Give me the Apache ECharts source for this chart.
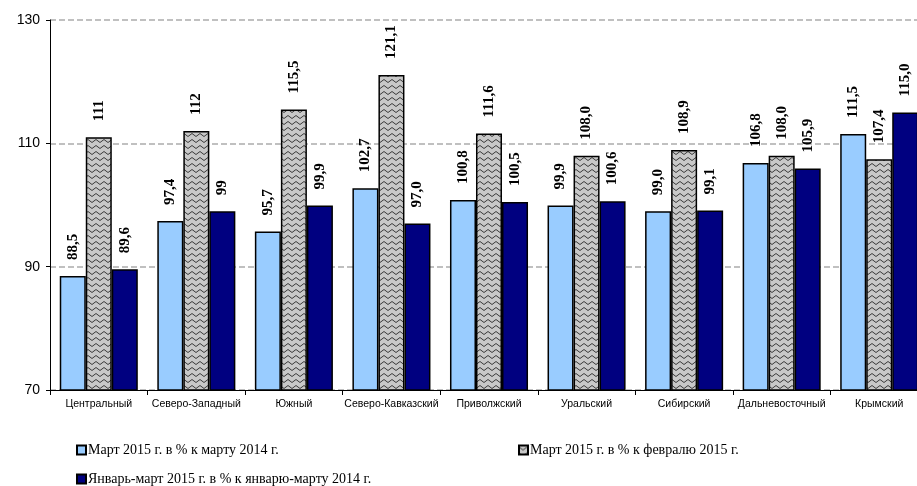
<!DOCTYPE html>
<html>
<head>
<meta charset="utf-8">
<script src="https://cdn.jsdelivr.net/npm/echarts@6/dist/echarts.min.js"></script>
<style>
  html, body { margin: 0; padding: 0; background: #fff; }
  #chart { width: 917px; height: 486px; }
</style>
</head>
<body>
<div id="chart"></div>
<script>
// федеральные округа
const districts = ['Центральный', 'Северо-Западный', 'Южный', 'Северо-Кавказский', 'Приволжский',
  'Уральский', 'Сибирский', 'Дальневосточный', 'Крымский']
// значения как подписаны на диаграмме
const marToMar = ['88,5', '97,4', '95,7', '102,7', '100,8', '99,9', '99,0', '106,8', '111,5']
const marToFeb = ['111', '112', '115,5', '121,1', '111,6', '108,0', '108,9', '108,0', '107,4']
const janMar = ['89,6', '99', '99,9', '97,0', '100,5', '100,6', '99,1', '105,9', '115,0']
const seriesNames = ['Март 2015 г. в % к марту 2014 г.', 'Март 2015 г. в % к февралю 2015 г.',
  'Январь-март 2015 г. в % к январю-марту 2014 г.']
const yTicks = [70, 90, 110, 130]

const toNum = s => parseFloat(s.replace(',', '.'))

// штриховка "зигзаг" для второго ряда
function makePattern(){
  const c = document.createElement('canvas')
  c.width = 8
  c.height = 6
  const ctx = c.getContext('2d')
  ctx.fillStyle = '#C8C8C8'
  ctx.fillRect(0, 0, 8, 6)
  ctx.strokeStyle = '#3a3a3a'
  ctx.lineWidth = 1
  ctx.beginPath()
  ctx.moveTo(0, 1.5)
  ctx.lineTo(4, 4.5)
  ctx.lineTo(8, 1.5)
  ctx.stroke()
  return c
}

const chart = echarts.init(document.getElementById('chart'))

const labelStyle = (texts) => ({
  show: true,
  position: 'top',
  rotate: 90,
  align: 'left',
  verticalAlign: 'middle',
  distance: 16,
  fontFamily: 'Liberation Serif',
  fontWeight: 'bold',
  fontSize: 15,
  color: '#000',
  formatter: p => texts[p.dataIndex]
})

const fills = ['#99CCFF', { image: makePattern(), repeat: 'repeat' }, '#000080']
const raw = [marToMar, marToFeb, janMar]

const series = raw.map((arr, i) => ({
  name: seriesNames[i],
  type: 'bar',
  barGap: '0%',
  barCategoryGap: '20%',
  data: arr.map(toNum),
  itemStyle: { color: fills[i], borderColor: '#000', borderWidth: 1.5 },
  label: labelStyle(arr),
  emphasis: { disabled: true }
}))

const legendText = { fontFamily: 'Liberation Serif', fontSize: 14, color: '#000', padding: [0, 0, 0, -3] }
const legendPos = [[76, 443], [518, 443], [76, 472]]
const legends = seriesNames.map((n, i) => ({
  data: [n],
  left: legendPos[i][0],
  top: legendPos[i][1],
  orient: 'horizontal',
  itemWidth: 9,
  itemHeight: 9,
  itemGap: 0,
  icon: 'rect',
  itemStyle: { borderColor: '#000', borderWidth: 2 },
  textStyle: legendText,
  padding: 0,
  selectedMode: false
}))

chart.setOption({
  animation: false,
  grid: { left: 50, width: 878, top: 20, bottom: 96, outerBoundsMode: 'none' },
  legend: legends,
  xAxis: {
    type: 'category',
    data: districts,
    axisLine: { lineStyle: { color: '#000', width: 1 } },
    axisTick: { show: true, length: 5, lineStyle: { color: '#000' } },
    axisLabel: { fontFamily: 'Liberation Sans', fontSize: 10.5, color: '#000', margin: 9, interval: 0 }
  },
  yAxis: {
    type: 'value',
    min: yTicks[0],
    max: yTicks[yTicks.length - 1],
    interval: 20,
    axisLine: { show: true, lineStyle: { color: '#000', width: 1 } },
    axisTick: { show: true, length: 4, lineStyle: { color: '#000' } },
    axisLabel: { fontFamily: 'Liberation Sans', fontSize: 14, color: '#000', margin: 10 },
    splitLine: { show: true, lineStyle: { color: '#C0C0C0', width: 2, type: [6, 3] } }
  },
  series: series
})
</script>
</body>
</html>
